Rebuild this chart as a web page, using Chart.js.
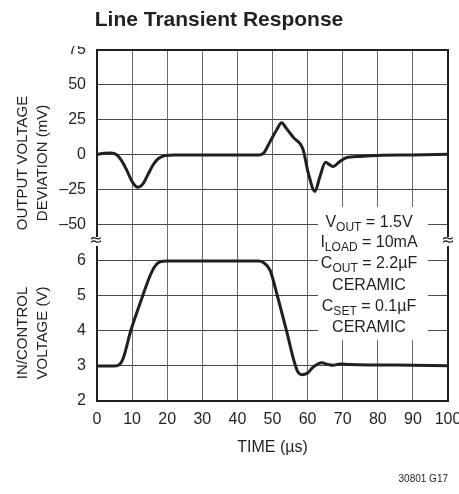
<!DOCTYPE html>
<html>
<head>
<meta charset="utf-8">
<script src="https://cdn.jsdelivr.net/npm/chart.js@4.4.0/dist/chart.umd.min.js"></script>
<style>
  html, body { margin: 0; padding: 0; background: #fff; }
  canvas { display: block; }
</style>
</head>
<body>
<canvas id="chart" width="459" height="494"></canvas>
<script>
// output voltage deviation (mV) against time (µs)
const outTime = [0, 2, 4, 5.5, 7, 8.5, 10, 11.6, 13, 14.5, 16, 17.5, 19.5, 22, 30, 40, 46, 47.5, 49.3, 51.2, 52.6, 54, 56, 58.7, 60.2, 62.1, 63.5, 65.1, 66.3, 67.3, 69, 71, 75, 80, 90, 100];
const outDev = [0.5, 1.2, 1.5, 0.3, -4, -11, -19, -23, -21, -14, -7, -2.5, -0.3, 0, 0, 0, 0, 1.5, 9.5, 18, 23, 18.8, 12.4, 4, -13, -26, -15.5, -5.2, -7, -8.3, -5, -2, -1, -0.3, 0, 0.5];

// in/control voltage (V) against time (µs)
const inTime = [0, 5, 6.5, 7.5, 9.6, 13, 15, 16.5, 18, 20, 30, 46, 47.5, 49.3, 51.4, 54, 56.4, 57.3, 58.3, 60, 61.5, 64, 66, 67.2, 69.2, 72, 80, 90, 100];
const inVolt = [3, 3, 3.05, 3.23, 4, 5, 5.55, 5.85, 5.98, 6, 6, 6, 5.95, 5.74, 5, 4, 3.05, 2.82, 2.75, 2.8, 2.96, 3.09, 3.04, 3.02, 3.06, 3.04, 3.03, 3.02, 3.01];

// axis ranges
const timeRange = [0, 100];
const devRange = [-62.86, 75];
const voltRange = [2, 6.514];

// conditions box, [normal, subscript, normal]
const noteLines = [
  ['V', 'OUT', ' = 1.5V'],
  ['I', 'LOAD', ' = 10mA'],
  ['C', 'OUT', ' = 2.2µF'],
  ['CERAMIC', '', ''],
  ['C', 'SET', ' = 0.1µF'],
  ['CERAMIC', '', '']
];

const ink = '#231f20';
const fam = "'Liberation Sans', Arial, sans-serif";

const extras = {
  id: 'extras',
  beforeDatasetsDraw(chart) {
    const ctx = chart.ctx;
    ctx.save();
    // box behind the conditions text
    ctx.fillStyle = '#fff';
    ctx.fillRect(318, 207, 110, 133);
    ctx.fillStyle = ink;
    ctx.textBaseline = 'alphabetic';
    const base = [227, 247, 268, 290, 311, 332];
    noteLines.forEach((ln, i) => {
      ctx.font = '16px ' + fam;
      let w0 = ctx.measureText(ln[0]).width;
      let w2 = ctx.measureText(ln[2]).width;
      ctx.font = '12px ' + fam;
      let w1 = ctx.measureText(ln[1]).width;
      let x = 369 - (w0 + w1 + w2) / 2;
      ctx.font = '16px ' + fam;
      ctx.fillText(ln[0], x, base[i]);
      ctx.font = '12px ' + fam;
      ctx.fillText(ln[1], x + w0, base[i] + 4);
      ctx.font = '16px ' + fam;
      ctx.fillText(ln[2], x + w0 + w1, base[i]);
    });
    ctx.restore();
  },
  afterDraw(chart) {
    const ctx = chart.ctx;
    const a = chart.chartArea;
    ctx.save();
    // frame
    ctx.strokeStyle = ink;
    ctx.lineWidth = 2;
    ctx.strokeRect(a.left, a.top, a.right - a.left, a.bottom - a.top);
    // axis break marks
    ctx.fillStyle = '#fff';
    ctx.fillRect(a.left - 2, 237, 4, 9);
    ctx.fillRect(a.right - 2, 237, 4, 9);
    ctx.fillStyle = ink;
    ctx.font = '16px DejaVu Sans';
    ctx.textAlign = 'center';
    ctx.textBaseline = 'middle';
    ctx.fillText('≈', a.left - 1, 241);
    ctx.fillText('≈', a.right, 241);
    // top label is cut in the original
    ctx.fillStyle = '#fff';
    ctx.fillRect(55, 30, 40, 16);
    // chart title
    ctx.fillStyle = ink;
    ctx.font = 'bold 21px ' + fam;
    ctx.fillText('Line Transient Response', 219, 20);
    // y axis titles
    ctx.font = '15px ' + fam;
    const rot = (txt, x, y) => {
      ctx.save();
      ctx.translate(x, y);
      ctx.rotate(-Math.PI / 2);
      ctx.fillText(txt, 0, 0);
      ctx.restore();
    };
    rot('OUTPUT VOLTAGE', 23, 163);
    rot('DEVIATION (mV)', 43, 163);
    rot('IN/CONTROL', 23, 333);
    rot('VOLTAGE (V)', 43, 333);
    // figure code
    ctx.font = '10px ' + fam;
    ctx.textAlign = 'right';
    ctx.fillText('30801 G17', 448, 479);
    ctx.restore();
  }
};

const tickFont = { family: fam, size: 16 };
const fixY = (s) => { s.width = 97; s.paddingTop = 0; s.paddingBottom = 0; };

new Chart(document.getElementById('chart'), {
  type: 'line',
  data: {
    datasets: [
      {
        data: outTime.map((t, i) => ({ x: t, y: outDev[i] })),
        yAxisID: 'yTop',
        borderColor: ink,
        borderWidth: 3,
        pointRadius: 0,
        cubicInterpolationMode: 'monotone',
        borderJoinStyle: 'round'
      },
      {
        data: inTime.map((t, i) => ({ x: t, y: inVolt[i] })),
        yAxisID: 'yBot',
        borderColor: ink,
        borderWidth: 3,
        pointRadius: 0,
        cubicInterpolationMode: 'monotone',
        borderJoinStyle: 'round'
      }
    ]
  },
  options: {
    responsive: false,
    animation: false,
    devicePixelRatio: 1,
    layout: { padding: { left: 0, right: 11, top: 50, bottom: 0 } },
    plugins: {
      legend: { display: false },
      tooltip: { enabled: false },
      title: { display: false }
    },
    scales: {
      x: {
        type: 'linear',
        min: timeRange[0],
        max: timeRange[1],
        ticks: { stepSize: 10, padding: 9, color: ink, font: tickFont, maxRotation: 0 },
        grid: { color: '#6a6a6a', drawTicks: false },
        border: { display: false },
        title: { display: true, text: 'TIME (µs)', color: ink, font: tickFont, padding: { top: 0, bottom: 37 } },
        afterFit: (s) => { s.height = 93; s.paddingLeft = 0; s.paddingRight = 0; }
      },
      // stacked axes on the left are placed in reverse order, so the lower panel comes first
      yBot: {
        type: 'linear',
        position: 'left',
        stack: 'v',
        stackWeight: 158,
        min: voltRange[0],
        max: voltRange[1],
        ticks: { stepSize: 1, includeBounds: false, padding: 11, color: ink, font: tickFont },
        grid: { color: '#4a4a4a', drawTicks: false },
        border: { display: false },
        afterFit: fixY
      },
      yTop: {
        type: 'linear',
        position: 'left',
        stack: 'v',
        stackWeight: 193,
        min: devRange[0],
        max: devRange[1],
        ticks: {
          stepSize: 25, includeBounds: false, padding: 11, color: ink, font: tickFont,
          callback: (v) => String(v).replace('-', '\u2013')
        },
        grid: { color: '#4a4a4a', drawTicks: false },
        border: { display: false },
        afterFit: fixY
      }
    }
  },
  plugins: [extras]
});
</script>
</body>
</html>
